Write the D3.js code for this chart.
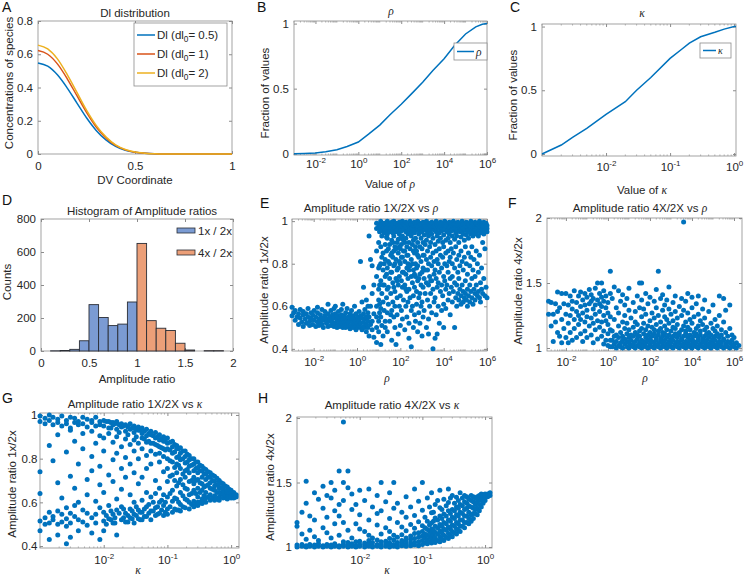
<!DOCTYPE html>
<html>
<head>
<meta charset="utf-8">
<title>Dl model parameter scan</title>
<script src="https://cdn.jsdelivr.net/npm/d3@7/dist/d3.min.js"></script>
<style>
  body { margin: 0; background: #fff; }
  svg text { font-family: "Liberation Sans", Arial, Helvetica, sans-serif; }
</style>
</head>
<body>
<svg id="fig" width="749" height="580"></svg>
<script>
// ---- values ----

// A: Dl profiles along the DV coordinate
var dvCoord = [0, 0.05, 0.1, 0.15, 0.2, 0.25, 0.3, 0.35, 0.4, 0.45, 0.5, 0.55, 0.6, 0.65, 0.7, 0.75, 0.8, 0.85, 0.9, 0.95, 1];
var dlHalf = [0.548, 0.528, 0.476, 0.398, 0.308, 0.218, 0.142, 0.085, 0.046, 0.022, 0.01, 0.004, 0.001, 0, 0, 0, 0, 0, 0, 0, 0];
var dlOne = [0.622, 0.6, 0.542, 0.454, 0.352, 0.25, 0.162, 0.097, 0.052, 0.025, 0.011, 0.004, 0.001, 0, 0, 0, 0, 0, 0, 0, 0];
var dlTwo = [0.655, 0.632, 0.572, 0.479, 0.372, 0.264, 0.172, 0.103, 0.055, 0.027, 0.012, 0.005, 0.001, 0, 0, 0, 0, 0, 0, 0, 0];
var dlLabels = ['0.5', '1', '2'];

// B, C: cumulative fraction of sampled parameters
var rhoCdfX = [1e-3, 3e-3, 1e-2, 3e-2, 0.1, 0.3, 1, 3, 10, 30, 100, 300, 1e3, 3e3, 1e4, 3e4, 1e5, 3e5, 6e5, 1e6];
var rhoCdfY = [0, 0.002, 0.005, 0.015, 0.03, 0.055, 0.09, 0.15, 0.22, 0.3, 0.38, 0.46, 0.55, 0.64, 0.73, 0.83, 0.92, 0.975, 0.995, 1];
var kappaCdfX = [1e-3, 2e-3, 3e-3, 5e-3, 1e-2, 2e-2, 3e-2, 5e-2, 0.1, 0.15, 0.2, 0.3, 0.5, 0.7, 1, 1.07];
var kappaCdfY = [0, 0.07, 0.13, 0.2, 0.31, 0.41, 0.5, 0.6, 0.75, 0.82, 0.87, 0.92, 0.955, 0.98, 1, 1];

// D: histogram (left bin edges, bin width 0.1)
var binLeft = [0.1, 0.2, 0.3, 0.4, 0.5, 0.6, 0.7, 0.8, 0.9, 1.0, 1.1, 1.2, 1.3, 1.4, 1.5, 1.6, 1.7, 1.8];
var binWidth = 0.1;
var counts1x = [1, 3, 10, 62, 281, 203, 154, 163, 297, 0, 0, 0, 0, 0, 0, 0, 0, 0];
var counts4x = [0, 0, 0, 0, 0, 0, 0, 0, 0, 652, 184, 138, 124, 47, 6, 0, 2, 2];
var histNames = ['1x / 2x', '4x / 2x'];

// E-H: scatter, grouped as [x, [y, y, ...]]
var ratio1VsRho = [
  [1e-3, [.595, .555]], [1.2e-3, [.57]], [1.4e-3, [.535, .58]], [1.7e-3, [.55]], [2e-3, [.565, .515]],
  [2.4e-3, [.545, .585]], [2.8e-3, [.525]], [3.3e-3, [.56, .505, .575]], [4e-3, [.54]], [4.6e-3, [.52, .565]],
  [5.5e-3, [.55, .59]], [6.5e-3, [.53, .51]], [7.6e-3, [.57, .545]], [9e-3, [.515, .56]], [1.05e-2, [.535, .58]],
  [1.25e-2, [.55, .505]], [1.5e-2, [.525, .57, .595]], [1.75e-2, [.54, .51]], [2.05e-2, [.56, .53]],
  [2.4e-2, [.515, .585, .545]], [2.8e-2, [.535, .5]], [3.3e-2, [.555, .575]], [3.9e-2, [.52, .54]],
  [4.6e-2, [.565, .505, .61]], [5.4e-2, [.53, .55]], [6.3e-2, [.51, .58, .54]], [7.4e-2, [.525, .56]],
  [8.7e-2, [.545, .505, .59]], [0.1, [.52, .565, .6]], [0.12, [.535, .5, .555]], [0.14, [.515, .575]],
  [0.16, [.545, .53, .505]], [0.19, [.56, .52, .585]], [0.22, [.5, .54, .61]], [0.26, [.525, .555, .51]],
  [0.3, [.545, .5, .57]], [0.35, [.515, .535, .59]], [0.41, [.55, .505, .525]], [0.48, [.53, .565, .495]],
  [0.56, [.51, .545, .58]], [0.66, [.525, .5, .555]], [0.77, [.54, .515, .6]], [0.9, [.505, .53, .565, .49]],
  [1.05, [.52, .55, .5]], [1.25, [.535, .575, .51]], [1.45, [.5, .555, .52, .81]], [1.7, [.545, .49, .62]],
  [2, [.525, .565, .69, .505]], [2.3, [.5, .54, .585]], [2.7, [.55, .515, .63, .48]], [3.2, [.53, .57, .5, .6]],
  [3.6, [.93, .55, .46]], [4.2, [.82, .6, .515]], [5, [.79, .66, .53, .49]], [6, [.7, .565, .455]],
  [8, [.99, .965, .86, .74, .6, .55, .5, .43]], [10, [.97, .985, .9, .68, .63, .53, .48, .78]],
  [11, [.95, .975, .79, .57, .61, .7]], [12.5, [1.0, .96, .8, .72, .59, .55, .42, .88]],
  [14, [.98, .955, .93, .66, .51, .83]], [16, [.955, .985, .85, .77, .62, .46, .7]],
  [18, [.99, .97, .945, .7, .58, .8]], [20, [.985, .96, .89, .82, .53, .5, .74]],
  [23, [.96, .99, .925, .75, .64, .86]], [25, [1.0, .97, .94, .92, .78, .57, .48, .68]],
  [28, [.975, .95, .87, .69, .61, .81]], [32, [.99, .965, .95, .8, .73, .53, .89]],
  [36, [.965, .985, .84, .66, .56, .76]], [40, [.995, .97, .91, .76, .58, .44, .85]],
  [45, [.98, .955, .945, .83, .71, .62, .9]], [50, [1.0, .965, .93, .86, .79, .55, .69]],
  [56, [.97, .99, .88, .67, .6, .5, .8]], [63, [.99, .965, .95, .82, .73, .42, .87]],
  [71, [.985, .96, .9, .77, .64, .56, .72]], [80, [.96, .98, .915, .85, .7, .47, .78]],
  [90, [.995, .97, .94, .81, .74, .6, .88]], [100, [.975, .955, .87, .8, .65, .51, .92]],
  [112, [.99, .97, .955, .89, .72, .58, .83]], [125, [1.0, .975, .93, .83, .69, .54, .76]],
  [140, [.965, .985, .91, .76, .63, .86]], [160, [.985, .96, .86, .81, .7, .49, .9]],
  [180, [.995, .975, .95, .92, .75, .6, .68]], [200, [.97, .99, .88, .78, .67, .55, .84]],
  [225, [.99, .965, .94, .84, .73, .62, .8]], [250, [.98, .955, .9, .68, .52, .45, .77]],
  [280, [1.0, .97, .95, .87, .79, .64]], [320, [.965, .985, .93, .82, .74, .58, .41]],
  [360, [.99, .97, .95, .89, .71, .6, .8]], [400, [.985, .96, .91, .77, .65, .5, .86]],
  [450, [.995, .97, .945, .85, .69, .56, .75]], [500, [.97, .99, .92, .8, .74, .53, .88]],
  [560, [.99, .975, .96, .86, .67, .61, .78]], [630, [1.0, .965, .9, .79, .72, .48, .84]],
  [710, [.975, .99, .94, .83, .64, .57, .73]], [800, [.99, .97, .955, .88, .75, .66, .52]],
  [900, [.965, .985, .92, .81, .7, .6]], [1e3, [.985, .965, .95, .87, .76, .62, .46]],
  [1120, [.995, .97, .9, .78, .69, .55, .84]], [1250, [.97, .99, .935, .84, .73, .58]],
  [1400, [.99, .975, .96, .89, .66, .77]], [1600, [1.0, .965, .91, .82, .71, .5]],
  [1800, [.98, .96, .945, .86, .77, .63]], [2e3, [.965, .985, .93, .8, .7, .54, .47]],
  [2250, [.99, .97, .955, .88, .74, .6]], [2500, [.985, .96, .9, .83, .66, .72]],
  [2800, [.995, .975, .94, .79, .72, .57]], [3200, [.97, .99, .92, .85, .68, .4]],
  [3600, [.99, .975, .96, .81, .75, .62]], [4e3, [.98, .96, .89, .77, .64, .45]],
  [4500, [1.0, .97, .95, .86, .73, .56]], [5e3, [.965, .985, .93, .82, .69, .47]],
  [5600, [.99, .97, .905, .8, .71, .6]], [6300, [.985, .965, .945, .87, .76, .52]],
  [7100, [.995, .975, .92, .84, .67]], [8e3, [.97, .99, .955, .78, .7, .58]],
  [9e3, [.99, .965, .9, .83, .65]], [1e4, [.98, .96, .935, .88, .74, .61, .5]],
  [1.12e4, [1.0, .975, .96, .8, .72]], [1.25e4, [.965, .985, .91, .85, .68, .59]],
  [1.4e4, [.99, .97, .95, .79, .7]], [1.6e4, [.985, .96, .92, .86, .76, .63]],
  [1.8e4, [.995, .97, .94, .81, .66]], [2e4, [.97, .99, .9, .83, .73, .56]],
  [2.25e4, [.99, .975, .955, .87, .69]], [2.5e4, [.98, .96, .93, .8, .74, .62]],
  [2.8e4, [1.0, .975, .96, .85, .67]], [3.2e4, [.965, .985, .915, .78, .71, .5]],
  [3.6e4, [.99, .97, .945, .88, .64]], [4e4, [.985, .96, .93, .82, .7, .6]],
  [4.5e4, [.995, .975, .96, .76, .66]], [5e4, [.97, .99, .9, .84, .73, .63]],
  [5.6e4, [.99, .97, .95, .79, .68]], [6.3e4, [.98, .96, .925, .86, .65, .61]],
  [7.1e4, [1.0, .975, .955, .81, .7]], [8e4, [.965, .985, .94, .77, .67, .62]],
  [9e4, [.99, .97, .91, .83, .64]], [1e5, [.985, .96, .975, .88, .72, .66]],
  [1.12e5, [.995, .97, .935, .8, .63]], [1.25e5, [.97, .99, .95, .75, .68, .6]],
  [1.4e5, [.99, .965, .92, .85, .65]], [1.6e5, [.98, .96, .975, .79, .7, .62]],
  [1.8e5, [1.0, .97, .94, .83, .67]], [2e5, [.965, .985, .955, .88, .73, .64]],
  [2.25e5, [.99, .97, .93, .77, .61]], [2.5e5, [.985, .965, .95, .82, .68]],
  [2.8e5, [.995, .975, .96, .74, .66, .63]], [3.2e5, [.97, .99, .94, .86, .7]],
  [3.6e5, [.99, .97, .955, .8, .65]], [4e5, [.98, .96, .93, .76, .67]],
  [4.5e5, [1.0, .975, .96, .84, .64]], [5e5, [.965, .985, .945, .71, .62]],
  [5.6e5, [.99, .97, .95, .78, .68]], [6.3e5, [.985, .965, .96, .9, .66]],
  [7.1e5, [.995, .975, .94, .73]], [8e5, [.97, .99, .955, .87, .65]],
  [9e5, [.99, .975, .96, .69]], [1e6, [.98, .965, .95, .64]]
];

var ratio4VsRho = [
  [1.5e-3, [1.26, 1.36]], [2e-3, [1.17, 1.35]], [2.5e-3, [1.26, 1.05]], [3.2e-3, [1.2, 1.34]],
  [4e-3, [1.43, 1.12, 1.28]], [5e-3, [1.09, 1.31]], [6.3e-3, [1.22, 1.42, 1.04]], [8e-3, [1.34, 1.15]],
  [1e-2, [1.26, 1.42, 1.08]], [1.3e-2, [1.19, 1.33, 1.04]], [1.6e-2, [1.4, 1.25, 1.12]], [2e-2, [1.3, 1.06, 1.36]],
  [2.5e-2, [1.22, 1.44, 1.15]], [3.2e-2, [1.35, 1.08, 1.28]], [4e-2, [1.18, 1.4, 1.25]], [5e-2, [1.32, 1.11, 1.43, 1.22]],
  [6.3e-2, [1.27, 1.37, 1.05]], [8e-2, [1.42, 1.2, 1.33, 1.13]], [0.1, [1.29, 1.39, 1.08, 1.24]],
  [0.13, [1.45, 1.17, 1.34]], [0.16, [1.36, 1.23, 1.1, 1.41]], [0.2, [1.3, 1.19, 1.38, 1.04]],
  [0.25, [1.46, 1.26, 1.14, 1.33]], [0.32, [1.5, 1.21, 1.37, 1.07]], [0.4, [1.42, 1.28, 1.16, 1.34]],
  [0.5, [1.5, 1.32, 1.2, 1.09, 1.39]], [0.63, [1.44, 1.25, 1.13, 1.36, 1.03]], [0.8, [1.31, 1.21, 1.4, 1.06]],
  [1, [1.35, 1.18, 1.27, 1.02, 1.11]], [1.3, [1.59, 1.42, 1.24, 1.06, 1.14, 1.01]],
  [1.6, [1.01, 1.06, 1.13, 1.38]], [2, [1.03, 1.09, 1.22, 1.47]], [2.5, [1.0, 1.05, 1.1, 1.31]],
  [3.2, [1.02, 1.08, 1.17, 1.27, 1.44]], [4, [1.01, 1.04, 1.12, 1.36]], [5, [1.0, 1.06, 1.09, 1.2, 1.41]],
  [6.3, [1.03, 1.07, 1.15, 1.25, 1.33]], [8, [1.01, 1.05, 1.11, 1.19, 1.38]],
  [10, [1.0, 1.04, 1.08, 1.14, 1.29, 1.46]], [12.5, [1.02, 1.06, 1.1, 1.23]],
  [16, [1.01, 1.03, 1.09, 1.16, 1.35]], [20, [1.0, 1.05, 1.12, 1.2, 1.28]], [25, [1.02, 1.07, 1.1, 1.18, 1.4]],
  [32, [1.01, 1.04, 1.09, 1.13, 1.31, 1.5]], [40, [1.0, 1.03, 1.06, 1.15, 1.24, 1.37, 1.5]],
  [50, [1.02, 1.05, 1.11, 1.19, 1.3]], [63, [1.01, 1.04, 1.08, 1.14, 1.26, 1.42]],
  [80, [1.0, 1.06, 1.1, 1.17, 1.34]], [100, [1.02, 1.03, 1.07, 1.12, 1.21, 1.39]],
  [125, [1.01, 1.05, 1.09, 1.16, 1.27]], [160, [1.0, 1.04, 1.11, 1.14, 1.23, 1.36]],
  [200, [1.02, 1.06, 1.08, 1.18, 1.31, 1.45]], [250, [1.01, 1.03, 1.1, 1.13, 1.25, 1.59]],
  [320, [1.0, 1.05, 1.07, 1.15, 1.2, 1.38]], [400, [1.02, 1.04, 1.09, 1.12, 1.29, 1.41]],
  [500, [1.01, 1.06, 1.11, 1.17, 1.24, 1.33]], [630, [1.0, 1.03, 1.08, 1.14, 1.22, 1.37]],
  [800, [1.02, 1.05, 1.1, 1.19, 1.3, 1.47]], [1e3, [1.01, 1.04, 1.07, 1.13, 1.26]],
  [1250, [1.0, 1.06, 1.09, 1.16, 1.21, 1.35]], [1600, [1.02, 1.03, 1.11, 1.15, 1.28, 1.4]],
  [2e3, [1.01, 1.05, 1.08, 1.18, 1.23]], [2500, [1.0, 1.04, 1.1, 1.12, 1.32]],
  [3200, [1.02, 1.06, 1.07, 1.14, 1.25, 1.38]], [4e3, [1.01, 1.03, 1.09, 1.17, 1.29, 1.97]],
  [5e3, [1.0, 1.05, 1.11, 1.13, 1.2, 1.36]], [6300, [1.02, 1.04, 1.08, 1.16, 1.27, 1.42]],
  [8e3, [1.01, 1.06, 1.1, 1.14, 1.22]], [1e4, [1.0, 1.03, 1.07, 1.19, 1.31, 1.39]],
  [1.25e4, [1.02, 1.05, 1.09, 1.12, 1.24]], [1.6e4, [1.01, 1.04, 1.11, 1.15, 1.34]],
  [2e4, [1.0, 1.06, 1.08, 1.17, 1.26, 1.4]], [2.5e4, [1.02, 1.03, 1.1, 1.13, 1.21]],
  [3.2e4, [1.01, 1.05, 1.07, 1.18, 1.3]], [4e4, [1.0, 1.04, 1.09, 1.14, 1.23, 1.37]],
  [5e4, [1.02, 1.06, 1.11, 1.16]], [6.3e4, [1.01, 1.03, 1.08, 1.12, 1.28]], [8e4, [1.0, 1.05, 1.1, 1.19]],
  [1e5, [1.02, 1.04, 1.07, 1.15, 1.33]], [1.25e5, [1.01, 1.06, 1.09, 1.13, 1.22]],
  [1.6e5, [1.0, 1.03, 1.11, 1.17]], [2e5, [1.02, 1.05, 1.08, 1.25, 1.4]], [2.5e5, [1.01, 1.04, 1.1, 1.14]],
  [3.2e5, [1.0, 1.06, 1.07, 1.2, 1.38]], [4e5, [1.02, 1.03, 1.12, 1.29]], [5e5, [1.01, 1.05, 1.09]],
  [6.3e5, [1.0, 1.04, 1.15, 1.33]], [8e5, [1.02, 1.06, 1.1]], [1e6, [1.01, 1.03, 1.08]],
  [1.3e6, [1.0, 1.04]], [1.7e6, [1.02]]
];

var ratio1VsKappa = [
  [1e-3, [.995, .97, .74, .64, .515, .47]], [1.2e-3, [.985, .96, .53, .5]], [1.4e-3, [1.0, .975, .86, .555, .505, .43]],
  [1.6e-3, [.99, .955, .79, .535, .52]], [1.9e-3, [.98, .965, .91, .69, .56, .5, .45]], [2.2e-3, [.995, .95, .62, .545, .51]],
  [2.6e-3, [.975, .96, .83, .575, .525, .49, .41]], [3e-3, [.99, .94, .93, .72, .55, .505, .44]],
  [3.5e-3, [.985, .965, .88, .665, .585, .535]], [4e-3, [.97, .955, .775, .6, .52, .47]],
  [4.7e-3, [.99, .96, .915, .845, .565, .51]], [5.5e-3, [.98, .945, .705, .635, .55, .495]],
  [6.5e-3, [.975, .965, .925, .81, .745, .53, .46]], [7.5e-3, [.99, .95, .87, .605, .545, .505]],
  [8.7e-3, [.97, .955, .905, .765, .68, .575, .43]],
  [1e-2, [.975, .95, .895, .835, .645, .555, .515, .47]], [1.1e-2, [.97, .54, .5]],
  [1.2e-2, [.97, .94, .915, .725, .585, .525]], [1.3e-2, [.965, .94, .56, .52]],
  [1.4e-2, [.965, .955, .875, .795, .695, .545, .505]], [1.5e-2, [.96, .53, .505]],
  [1.6e-2, [.97, .935, .9, .825, .615, .565, .45]], [1.75e-2, [.955, .92, .55]],
  [1.9e-2, [.96, .945, .855, .755, .66, .58, .52]], [2.05e-2, [.95, .57, .53]],
  [2.2e-2, [.955, .925, .89, .805, .715, .55, .51]], [2.4e-2, [.945, .91, .54, .51]],
  [2.6e-2, [.96, .935, .865, .775, .635, .57, .53]], [2.8e-2, [.94, .56, .525]],
  [3e-2, [.95, .92, .885, .835, .735, .6, .545, .505]], [3.25e-2, [.935, .9, .58, .54]],
  [3.5e-2, [.945, .93, .87, .8, .685, .565, .525]], [3.75e-2, [.93, .555, .52]],
  [4e-2, [.94, .915, .895, .845, .715, .61, .555, .52]], [4.35e-2, [.925, .89, .57, .535]],
  [4.7e-2, [.935, .905, .875, .815, .755, .645, .58, .535]], [5.1e-2, [.915, .88, .59, .55]],
  [5.5e-2, [.925, .91, .87, .835, .775, .625, .56, .52]], [6e-2, [.905, .87, .6, .56]],
  [6.5e-2, [.92, .895, .865, .82, .7, .64, .575, .54]], [7e-2, [.9, .86, .58, .545]],
  [7.5e-2, [.91, .885, .855, .825, .785, .665, .6, .55]], [8.1e-2, [.89, .85, .61, .565]],
  [8.7e-2, [.9, .88, .845, .81, .74, .635, .585, .54]], [9.3e-2, [.88, .84, .6, .555]],
  [0.1, [.895, .87, .845, .8, .755, .695, .625, .57, .545]], [0.11, [.875, .84, .79, .72, .64, .58]],
  [0.12, [.88, .855, .825, .785, .725, .655, .605, .555]], [0.13, [.865, .83, .76, .7, .62, .57]],
  [0.14, [.86, .845, .805, .775, .735, .675, .615, .565]], [0.15, [.845, .81, .77, .69, .6, .565]],
  [0.16, [.85, .825, .795, .755, .705, .645, .59, .56]], [0.175, [.835, .8, .73, .68, .63, .58]],
  [0.19, [.835, .81, .78, .745, .715, .665, .615, .575]], [0.205, [.82, .785, .75, .66, .61]],
  [0.22, [.815, .795, .765, .735, .695, .635, .6, .57]], [0.24, [.8, .77, .7, .64, .59]],
  [0.26, [.8, .775, .745, .715, .685, .655, .605, .58]], [0.28, [.785, .755, .7, .64, .595]],
  [0.3, [.785, .76, .735, .705, .665, .625, .6, .585]], [0.325, [.77, .745, .69, .645, .6]],
  [0.35, [.765, .745, .715, .685, .655, .615, .595]], [0.375, [.755, .73, .67, .63, .605]],
  [0.4, [.75, .73, .705, .675, .645, .62, .6]], [0.435, [.74, .715, .68, .625]],
  [0.47, [.735, .715, .69, .665, .635, .61]], [0.51, [.725, .7, .66, .62]],
  [0.55, [.72, .695, .675, .655, .63, .61]], [0.6, [.71, .68, .645, .615]],
  [0.65, [.7, .685, .665, .645, .625, .61]], [0.7, [.69, .665, .64]],
  [0.75, [.685, .67, .655, .635, .62]], [0.81, [.675, .65, .63]],
  [0.87, [.67, .655, .64, .625, .615]], [0.93, [.66, .64, .625]],
  [1, [.655, .64, .63, .62]], [1.1, [.645, .63, .62]], [1.2, [.635, .625]]
];

var ratio4VsKappa = [
  [1e-3, [1.0, 1.015, 1.16, 1.19]], [1.2e-3, [1.005, 1.02, 1.27, 1.1]], [1.4e-3, [1.0, 1.01, 1.51, 1.34, 1.06]],
  [1.6e-3, [1.005, 1.02, 1.13, 1.24]], [1.9e-3, [1.0, 1.015, 1.21, 1.42, 1.08]], [2.2e-3, [1.005, 1.025, 1.05, 1.37]],
  [2.6e-3, [1.0, 1.01, 1.3, 1.47, 1.15]], [3e-3, [1.005, 1.02, 1.23, 1.4, 1.11]], [3.5e-3, [1.0, 1.015, 1.07, 1.5, 1.38]],
  [4e-3, [1.005, 1.025, 1.18, 1.44, 1.28]], [4.7e-3, [1.0, 1.01, 1.59, 1.33, 1.09, 1.24]],
  [5.5e-3, [1.005, 1.02, 1.97, 1.5, 1.36, 1.19, 1.04]], [6.5e-3, [1.0, 1.015, 1.035, 1.59, 1.46, 1.13]],
  [7.5e-3, [1.005, 1.025, 1.29, 1.41, 1.07]], [8.7e-3, [1.0, 1.01, 1.04, 1.33, 1.18]],
  [1e-2, [1.005, 1.02, 1.045, 1.25, 1.14, 1.44]], [1.2e-2, [1.0, 1.015, 1.03, 1.12, 1.36]],
  [1.4e-2, [1.005, 1.025, 1.05, 1.21, 1.45, 1.09]], [1.6e-2, [1.0, 1.01, 1.035, 1.07, 1.31]],
  [1.9e-2, [1.005, 1.02, 1.055, 1.17, 1.4, 1.26]], [2.2e-2, [1.0, 1.015, 1.04, 1.1, 1.28, 1.5]],
  [2.6e-2, [1.005, 1.025, 1.045, 1.15, 1.35]], [3e-2, [1.0, 1.01, 1.03, 1.065, 1.22, 1.42, 1.12]],
  [3.5e-2, [1.005, 1.02, 1.055, 1.09, 1.3, 1.5]], [4e-2, [1.0, 1.015, 1.035, 1.075, 1.19, 1.34]],
  [4.7e-2, [1.01, 1.03, 1.05, 1.095, 1.155, 1.27]], [5.5e-2, [1.005, 1.02, 1.045, 1.07, 1.125, 1.23, 1.39]],
  [6.5e-2, [1.01, 1.03, 1.06, 1.085, 1.175, 1.31]], [7.5e-2, [1.015, 1.035, 1.065, 1.105, 1.145, 1.245, 1.45]],
  [8.7e-2, [1.01, 1.04, 1.075, 1.11, 1.195, 1.355]],
  [0.1, [1.02, 1.05, 1.085, 1.12, 1.165, 1.285, 1.5]], [0.11, [1.03, 1.07, 1.1, 1.15, 1.23]],
  [0.12, [1.025, 1.055, 1.09, 1.135, 1.2, 1.38]], [0.13, [1.04, 1.08, 1.12, 1.17, 1.31]],
  [0.14, [1.03, 1.065, 1.1, 1.14, 1.185, 1.265, 1.42]], [0.15, [1.045, 1.09, 1.13, 1.2, 1.27]],
  [0.16, [1.035, 1.07, 1.115, 1.16, 1.225, 1.33]], [0.175, [1.05, 1.1, 1.15, 1.21, 1.36]],
  [0.19, [1.04, 1.08, 1.125, 1.175, 1.24, 1.305, 1.44]], [0.205, [1.06, 1.11, 1.16, 1.22, 1.29]],
  [0.22, [1.05, 1.09, 1.14, 1.19, 1.255, 1.37]], [0.24, [1.075, 1.13, 1.18, 1.24, 1.32]],
  [0.26, [1.065, 1.105, 1.155, 1.21, 1.28, 1.345, 1.45]], [0.28, [1.09, 1.14, 1.2, 1.26, 1.38]],
  [0.3, [1.08, 1.12, 1.17, 1.23, 1.29, 1.4]], [0.325, [1.11, 1.16, 1.22, 1.28, 1.34]],
  [0.35, [1.1, 1.14, 1.19, 1.25, 1.31, 1.385]], [0.375, [1.13, 1.18, 1.24, 1.3, 1.36]],
  [0.4, [1.12, 1.16, 1.21, 1.27, 1.33, 1.42]], [0.435, [1.16, 1.21, 1.26, 1.32, 1.38]],
  [0.47, [1.15, 1.19, 1.24, 1.29, 1.35, 1.4]], [0.51, [1.19, 1.24, 1.3, 1.34, 1.39]],
  [0.55, [1.18, 1.22, 1.27, 1.32, 1.37]], [0.6, [1.2, 1.25, 1.31, 1.36, 1.4]],
  [0.65, [1.22, 1.26, 1.3, 1.35, 1.39]], [0.7, [1.26, 1.29, 1.33, 1.38]],
  [0.75, [1.25, 1.3, 1.35, 1.39]], [0.81, [1.28, 1.33, 1.37, 1.4]],
  [0.87, [1.31, 1.36, 1.39, 1.41]], [0.93, [1.34, 1.38, 1.405]],
  [1, [1.36, 1.39, 1.41]], [1.1, [1.39, 1.41]], [1.2, [1.4, 1.42]]
];

// ---- drawing ----
var svg = d3.select('#fig');
var ink = '#262626';
var boxCol = '#8c8c8c';
var fs = 11.5;
var blue = '#0072bd';
var lineColors = ['#0072bd', '#d95319', '#edb120'];
var histColors = ['#7b9bd3', '#ec9f78'];

// text with optional italic greek / subscript pieces
function rich(x, y, parts, o) {
  o = o || {};
  var size = o.size || fs;
  var t = svg.append('text')
    .attr('x', x).attr('y', y)
    .attr('font-size', size)
    .attr('fill', ink)
    .attr('text-anchor', o.anchor || 'middle');
  if (o.rotate) t.attr('transform', 'rotate(-90,' + x + ',' + y + ')');
  var shift = 0;
  parts.forEach(function (p) {
    var s = t.append('tspan').text(p[0]);
    var want = p[1] === 'sub' ? 3 : 0;
    if (want !== shift) { s.attr('dy', want - shift); shift = want; }
    if (p[1] === 'sub') s.attr('font-size', size * 0.72);
    if (p[1] === 'greek') s.attr('font-style', 'italic').attr('font-family', '"Liberation Serif", "DejaVu Serif", serif');
  });
  return t;
}

function frame(o) {
  var x = (o.xLog ? d3.scaleLog() : d3.scaleLinear()).domain(o.xDomain).range([o.l, o.r]);
  var y = d3.scaleLinear().domain(o.yDomain).range([o.b, o.t]);
  var g = svg.append('g');

  g.append('rect')
    .attr('x', o.l).attr('y', o.t)
    .attr('width', o.r - o.l).attr('height', o.b - o.t)
    .attr('fill', 'none').attr('stroke', boxCol).attr('stroke-width', 0.8);

  var xFmt = o.xLog ? function () { return ''; } : d3.format('');
  var bottom = g.append('g').attr('transform', 'translate(0,' + o.b + ')')
    .call(d3.axisBottom(x).tickValues(o.xTicks).tickSizeInner(-3).tickSizeOuter(0)
      .tickPadding(o.xPad).tickFormat(xFmt));
  g.append('g').attr('transform', 'translate(0,' + o.t + ')')
    .call(d3.axisTop(x).tickValues(o.xTicks).tickSizeInner(-3).tickSizeOuter(0).tickFormat(''));
  g.append('g').attr('transform', 'translate(' + o.l + ',0)')
    .call(d3.axisLeft(y).tickValues(o.yTicks).tickSizeInner(-3).tickSizeOuter(0)
      .tickPadding(o.yPad || 5).tickFormat(d3.format('')));
  g.append('g').attr('transform', 'translate(' + o.r + ',0)')
    .call(d3.axisRight(y).tickValues(o.yTicks).tickSizeInner(-3).tickSizeOuter(0).tickFormat(''));

  if (o.xLog) {
    bottom.selectAll('.tick text').each(function (d) {
      var t = d3.select(this).text(null);
      t.append('tspan').text('10');
      t.append('tspan').attr('dy', -4.5).attr('font-size', 8)
        .text(String(Math.round(Math.log10(d))));
    });
    // minor ticks, top and bottom
    var lo = Math.floor(Math.log10(o.xDomain[0]));
    var hi = Math.ceil(Math.log10(o.xDomain[1]));
    var majorExp = o.xTicks.map(function (v) { return Math.round(Math.log10(v)); });
    var minor = [];
    for (var k = lo; k <= hi; k++) {
      for (var m = 1; m < 10; m++) {
        if (m === 1 && majorExp.indexOf(k) >= 0) continue;
        var v = m * Math.pow(10, k);
        if (v >= o.xDomain[0] * 0.999 && v <= o.xDomain[1]) minor.push(v);
      }
    }
    [o.b, o.t].forEach(function (yy, i) {
      g.append('g').selectAll('line').data(minor).enter().append('line')
        .attr('x1', x).attr('x2', x)
        .attr('y1', yy).attr('y2', i ? yy + 1.6 : yy - 1.6)
        .attr('stroke', boxCol).attr('stroke-width', 0.6);
    });
  }

  g.selectAll('.domain').remove();
  g.selectAll('.tick line').attr('stroke', boxCol);
  g.selectAll('.tick text').attr('fill', ink).attr('font-size', fs);
  return { x: x, y: y, g: g };
}

function scatter(p, cols) {
  var pts = [];
  cols.forEach(function (c) {
    c[1].forEach(function (v) { pts.push([c[0], v]); });
  });
  p.g.append('g').selectAll('circle')
    .data(pts).enter().append('circle')
    .attr('cx', function (d) { return p.x(d[0]); })
    .attr('cy', function (d) { return p.y(d[1]); })
    .attr('r', 2.5)
    .attr('fill', blue);
}

function letter(x, y, s) {
  svg.append('text').attr('x', x).attr('y', y).attr('font-size', 14).attr('fill', '#111').text(s);
}

// Panel A
var pA = frame({ l: 38, r: 232, t: 21, b: 154, xDomain: [0, 1], xTicks: [0, 0.5, 1],
  yDomain: [0, 0.8], yTicks: [0, 0.2, 0.4, 0.6, 0.8], xPad: 7.8 });
var lineA = d3.line()
  .x(function (d) { return pA.x(d[0]); })
  .y(function (d) { return pA.y(d[1]); })
  .curve(d3.curveMonotoneX);
[dlHalf, dlOne, dlTwo].forEach(function (series, i) {
  pA.g.append('path')
    .datum(d3.zip(dvCoord, series))
    .attr('d', lineA)
    .attr('fill', 'none')
    .attr('stroke', lineColors[i])
    .attr('stroke-width', 1.5);
});
svg.append('rect').attr('x', 134).attr('y', 23).attr('width', 93).attr('height', 63)
  .attr('fill', '#fff').attr('stroke', boxCol).attr('stroke-width', 0.8);
dlLabels.forEach(function (lab, i) {
  var ly = [35, 54, 73][i];
  svg.append('line').attr('x1', 137).attr('x2', 155).attr('y1', ly).attr('y2', ly)
    .attr('stroke', lineColors[i]).attr('stroke-width', 1.5);
  rich(157, ly + 3.5, [['Dl (dl'], ['0', 'sub'], ['= ' + lab + ')']], { anchor: 'start' });
});
letter(2, 12, 'A');
rich(135, 16.5, [['Dl distribution']]);
rich(135, 184, [['DV Coordinate']]);
rich(13, 83, [['Concentrations of species']], { rotate: true });

// Panel B
var pB = frame({ l: 294, r: 487, t: 21, b: 155, xLog: true, xDomain: [1e-3, 1e6],
  xTicks: [1e-2, 1, 1e2, 1e4, 1e6], yDomain: [-0.01, 1.02], yTicks: [0, 0.5, 1], xPad: 4.8 });
pB.g.append('path')
  .datum(d3.zip(rhoCdfX, rhoCdfY))
  .attr('d', d3.line().x(function (d) { return pB.x(d[0]); }).y(function (d) { return pB.y(d[1]); }))
  .attr('fill', 'none').attr('stroke', blue).attr('stroke-width', 1.5);
svg.append('rect').attr('x', 454).attr('y', 43).attr('width', 33).attr('height', 17)
  .attr('fill', '#fff').attr('stroke', boxCol).attr('stroke-width', 0.8);
svg.append('line').attr('x1', 457).attr('x2', 474).attr('y1', 51.5).attr('y2', 51.5)
  .attr('stroke', blue).attr('stroke-width', 1.5);
rich(476, 55.5, [['ρ', 'greek']], { anchor: 'start' });
letter(257, 12, 'B');
rich(391, 15, [['ρ', 'greek']]);
rich(390, 188, [['Value of '], ['ρ', 'greek']]);
rich(269, 93, [['Fraction of values']], { rotate: true });

// Panel C
var pC = frame({ l: 542, r: 736, t: 24, b: 156, xLog: true, xDomain: [1e-3, 1.07],
  xTicks: [1e-2, 1e-1, 1], yDomain: [-0.016, 1.02], yTicks: [0, 0.5, 1], xPad: 6.8 });
pC.g.append('path')
  .datum(d3.zip(kappaCdfX, kappaCdfY))
  .attr('d', d3.line().x(function (d) { return pC.x(d[0]); }).y(function (d) { return pC.y(d[1]); }))
  .attr('fill', 'none').attr('stroke', blue).attr('stroke-width', 1.5);
svg.append('rect').attr('x', 700).attr('y', 43).attr('width', 31).attr('height', 15)
  .attr('fill', '#fff').attr('stroke', boxCol).attr('stroke-width', 0.8);
svg.append('line').attr('x1', 703).attr('x2', 716).attr('y1', 50.5).attr('y2', 50.5)
  .attr('stroke', blue).attr('stroke-width', 1.5);
rich(718, 54, [['κ', 'greek']], { anchor: 'start', size: 10 });
letter(510, 12, 'C');
rich(642, 17, [['κ', 'greek']]);
rich(642, 194, [['Value of '], ['κ', 'greek']]);
rich(517, 95, [['Fraction of values']], { rotate: true });

// Panel D
var pD = frame({ l: 41, r: 233, t: 219, b: 351, xDomain: [0, 2], xTicks: [0, 0.5, 1, 1.5, 2],
  yDomain: [0, 800], yTicks: [0, 200, 400, 600, 800], xPad: 7.8 });
[counts1x, counts4x].forEach(function (counts, s) {
  pD.g.append('g').selectAll('rect')
    .data(d3.zip(binLeft, counts).filter(function (d) { return d[1] > 0; }))
    .enter().append('rect')
    .attr('x', function (d) { return pD.x(d[0]); })
    .attr('width', function (d) { return pD.x(d[0] + binWidth) - pD.x(d[0]); })
    .attr('y', function (d) { return pD.y(d[1]); })
    .attr('height', function (d) { return pD.y(0) - pD.y(d[1]); })
    .attr('fill', histColors[s])
    .attr('stroke', '#2a2d35')
    .attr('stroke-width', 0.9);
});
histNames.forEach(function (name, i) {
  var ly = [228, 250][i];
  svg.append('rect').attr('x', 177).attr('y', ly).attr('width', 18).attr('height', 5)
    .attr('fill', histColors[i]).attr('stroke', '#2a2d35').attr('stroke-width', 0.8);
  rich(198, ly + 7, [[name]], { anchor: 'start' });
});
letter(2, 205, 'D');
rich(142, 214.5, [['Histogram of Amplitude ratios']]);
rich(137, 383, [['Amplitude ratio']]);
rich(11, 282, [['Counts']], { rotate: true });

// Panel E
var pE = frame({ l: 292, r: 487, t: 219, b: 351, xLog: true, xDomain: [1e-3, 1e6],
  xTicks: [1e-2, 1, 1e2, 1e4, 1e6], yDomain: [0.39, 1.01], yTicks: [0.4, 0.6, 0.8, 1], xPad: 6.8, yPad: 4 });
scatter(pE, ratio1VsRho);
letter(260, 208, 'E');
rich(371, 212, [['Amplitude ratio 1X/2X vs '], ['ρ', 'greek']]);
rich(387, 382, [['ρ', 'greek']]);
rich(268, 290, [['Amplitude ratio 1x/2x']], { rotate: true });

// Panel F
var pF = frame({ l: 547, r: 742, t: 218, b: 351, xLog: true, xDomain: [1.26e-3, 2.4e6],
  xTicks: [1e-2, 1, 1e2, 1e4, 1e6], yDomain: [0.977, 2.0], yTicks: [1, 1.5, 2], xPad: 6.8 });
scatter(pF, ratio4VsRho);
letter(508, 208, 'F');
rich(640, 212, [['Amplitude ratio 4X/2X vs '], ['ρ', 'greek']]);
rich(645, 382, [['ρ', 'greek']]);
rich(522, 291, [['Amplitude ratio 4x/2x']], { rotate: true });

// Panel G
var pG = frame({ l: 40, r: 239, t: 413, b: 548, xLog: true, xDomain: [1e-3, 1.33],
  xTicks: [1e-2, 1e-1, 1], yDomain: [0.391, 1.009], yTicks: [0.4, 0.6, 0.8, 1], xPad: 7.8, yPad: 2.5 });
scatter(pG, ratio1VsKappa);
letter(2, 403, 'G');
rich(135, 408, [['Amplitude ratio 1X/2X vs '], ['κ', 'greek']]);
rich(138, 574, [['κ', 'greek']]);
rich(16, 484, [['Amplitude ratio 1x/2x']], { rotate: true });

// Panel H
var pH = frame({ l: 297, r: 492, t: 417, b: 548, xLog: true, xDomain: [1e-3, 1.29],
  xTicks: [1e-2, 1e-1, 1], yDomain: [0.992, 2.008], yTicks: [1, 1.5, 2], xPad: 7.8 });
scatter(pH, ratio4VsKappa);
letter(258, 403, 'H');
rich(392, 409, [['Amplitude ratio 4X/2X vs '], ['κ', 'greek']]);
rich(387, 574, [['κ', 'greek']]);
rich(274, 487, [['Amplitude ratio 4x/2x']], { rotate: true });
</script>
</body>
</html>
